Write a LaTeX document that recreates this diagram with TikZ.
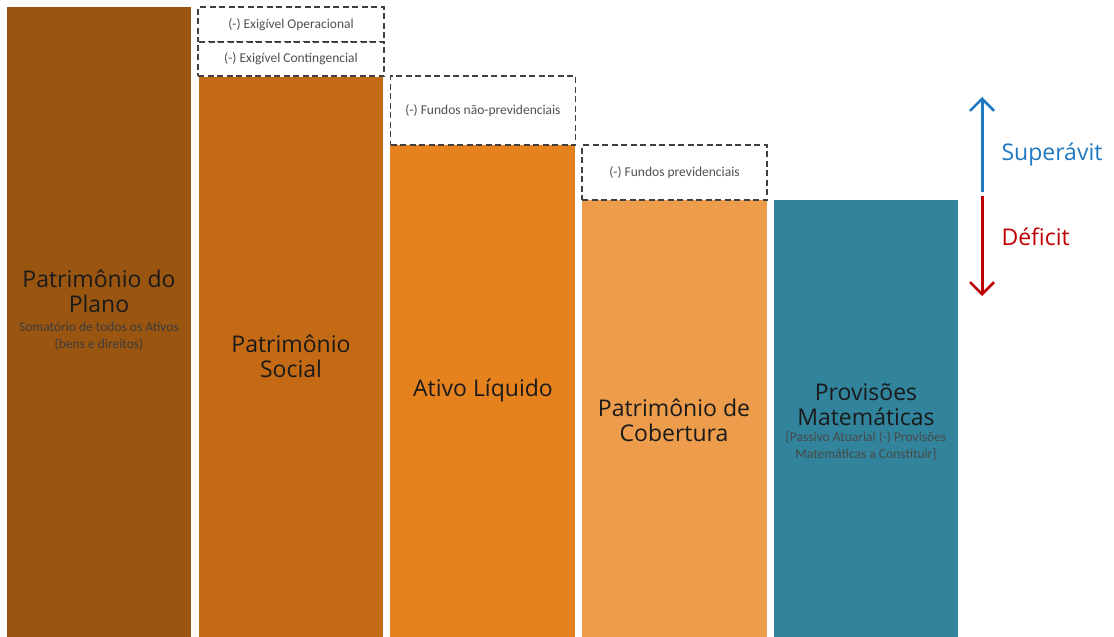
\documentclass[tikz,border=0pt]{standalone}
\usepackage{fontspec}
\setmainfont{Carlito}
\newfontfamily\hand{Open Sans}
\usetikzlibrary{arrows.meta}
\definecolor{cA}{HTML}{9A5511}
\definecolor{cB}{HTML}{C46A14}
\definecolor{cC}{HTML}{E6821E}
\definecolor{cD}{HTML}{EC9C4B}
\definecolor{cE}{HTML}{31849B}
\definecolor{upblue}{HTML}{1F78C1}
\definecolor{downred}{HTML}{C00000}
\definecolor{txtgray}{HTML}{505050}
\definecolor{dashgray}{HTML}{404040}
\definecolor{ink}{HTML}{1A1A1A}
\tikzset{
  bar/.style={draw=none, inner sep=0pt, outer sep=0pt, anchor=north west},
  dbox/.style={draw=dashgray, dash pattern=on 6pt off 3.5pt, line width=1.2pt, inner sep=0pt, outer sep=0pt, anchor=north west, fill=white, text=txtgray, font=\fontsize{13.5}{15}\selectfont},
  big/.style={text=ink, align=center, font=\hand\fontsize{23}{25}\selectfont},
  small/.style={text=ink!85, align=center, font=\fontsize{13.5}{16.5}\selectfont},
  side/.style={anchor=west, font=\hand\fontsize{23}{25}\selectfont},
}
\begin{document}
\begin{tikzpicture}[x=1pt,y=-1pt]
\fill[white] (0,0) rectangle (1114,637);
\useasboundingbox (0,0) rectangle (1114,637);
% bars
\node[bar, fill=cA, minimum width=184pt, minimum height=630pt] (b1) at (7,7) {};
\node[bar, fill=cB, minimum width=184pt, minimum height=560pt] (b2) at (199,77) {};
\node[bar, fill=cC, minimum width=185pt, minimum height=492pt] (b3) at (390,145) {};
\node[bar, fill=cD, minimum width=185pt, minimum height=437pt] (b4) at (582,200) {};
\node[bar, fill=cE, minimum width=184pt, minimum height=437pt] (b5) at (774,200) {};
% dashed boxes
\node[dbox, minimum width=186pt, minimum height=35pt] (d1) at (198,7) {(-) Exigível Operacional};
\node[dbox, minimum width=186pt, minimum height=34pt] (d2) at (198,42) {(-) Exigível Contingencial};
\node[dbox, minimum width=185pt, minimum height=69pt] (d3) at (390.5,76) {(-) Fundos não-previdenciais};
\node[dbox, minimum width=185pt, minimum height=55pt] (d4) at (582,145) {(-) Fundos previdenciais};
% labels
\node[big] (t1) at (99,291) {Patrimônio do\\Plano};
\node[small] (s1) at (99,336) {Somatório de todos os Ativos\\(bens e direitos)};
\node[big] (t2) at (291,356) {Patrimônio\\Social};
\node[big] (t3) at (483,390) {Ativo Líquido};
\node[big] (t4) at (674,420) {Patrimônio de\\Cobertura};
\node[big] (t5) at (866,405) {Provisões\\Matemáticas};
\node[small, text=ink!80] (s5) at (866,446) {[Passivo Atuarial (-) Provisões\\Matemáticas a Constituir]};
% arrows
\coordinate (up0) at (982,192);
\coordinate (up1) at (982,97);
\coordinate (dn0) at (982,196);
\coordinate (dn1) at (982,296);
\draw[upblue, line width=3pt, -{Straight Barb[length=12pt,width=24pt,line width=2.6pt]}] (up0) -- (up1);
\draw[downred, line width=3pt, -{Straight Barb[length=12pt,width=24pt,line width=2.6pt]}] (dn0) -- (dn1);
\node[side, text=upblue] (sup) at (998,154) {Superávit};
\node[side, text=downred] (def) at (998,237) {Déficit};
\end{tikzpicture}
\end{document}
